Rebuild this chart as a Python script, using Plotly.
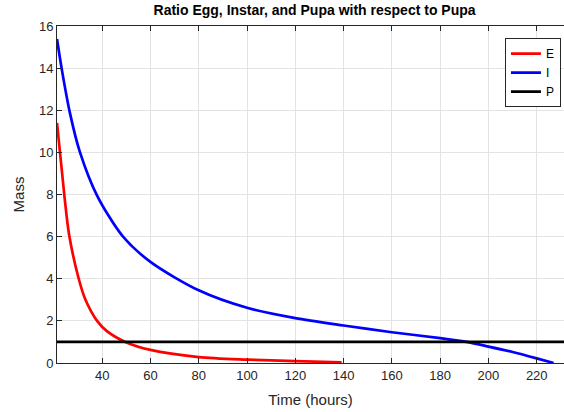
import plotly.graph_objects as go

# Data
egg_t = [21.3, 24.4, 26.3, 30.3, 33.1, 37.9, 42.1, 49.6, 60, 80, 100, 120, 139.2]
egg_m = [11.4, 7.9, 6.1, 4.0, 3.0, 2.0, 1.5, 1.0, 0.62, 0.28, 0.16, 0.09, 0.03]

instar_t = [21.3, 23.2, 26.6, 30.7, 37.9, 48.3, 60, 80, 100, 120, 140, 160, 180, 190.8, 200, 210, 220, 227]
instar_m = [15.38, 14.0, 11.9, 10.05, 7.95, 6.05, 4.8, 3.45, 2.62, 2.13, 1.78, 1.46, 1.18, 1.0, 0.78, 0.52, 0.22, 0.0]

pupa_t = [21.3, 231.3]
pupa_m = [1.0, 1.0]

x_ticks = [40, 60, 80, 100, 120, 140, 160, 180, 200, 220]
y_ticks = [0, 2, 4, 6, 8, 10, 12, 14, 16]

FONT = "Liberation Sans, Arial, sans-serif"
AX = "#262626"

fig = go.Figure()
fig.add_trace(go.Scatter(x=egg_t, y=egg_m, mode="lines", name="E",
                         line=dict(color="#ff0000", width=2.7, shape="spline", smoothing=0.8)))
fig.add_trace(go.Scatter(x=instar_t, y=instar_m, mode="lines", name="I",
                         line=dict(color="#0000ff", width=2.7, shape="spline", smoothing=0.8)))
fig.add_trace(go.Scatter(x=pupa_t, y=pupa_m, mode="lines", name="P",
                         line=dict(color="#000000", width=2.7)))

fig.update_layout(
    width=564, height=412,
    margin=dict(l=57, r=0, t=26, b=49),
    paper_bgcolor="white", plot_bgcolor="white",
    font=dict(family=FONT, size=13, color=AX),
    title=dict(text="<b>Ratio Egg, Instar, and Pupa with respect to Pupa</b>",
               x=0.508, xref="paper", xanchor="center",
               y=0.975, yref="container", yanchor="middle",
               font=dict(family=FONT, size=14, color="#000000")),
    showlegend=True,
    legend=dict(x=0.994, y=0.964, xanchor="right", yanchor="top",
                bgcolor="white", bordercolor=AX, borderwidth=1,
                font=dict(family=FONT, size=12, color="#000000"),
                tracegroupgap=0, itemwidth=30, entrywidth=22),
)

fig.update_xaxes(
    range=[21.3, 231.3], tickvals=x_ticks, ticktext=[str(v) for v in x_ticks],
    showgrid=True, gridcolor="#e3e3e3", gridwidth=1, zeroline=False,
    showline=True, linecolor=AX, linewidth=1, mirror="ticks",
    ticks="inside", ticklen=5, tickcolor=AX,
    tickfont=dict(family=FONT, size=13, color=AX),
    title=dict(text="Time (hours)", font=dict(family=FONT, size=15, color=AX), standoff=12),
)
fig.update_yaxes(
    range=[0, 16], tickvals=y_ticks, ticktext=[str(v) for v in y_ticks],
    showgrid=True, gridcolor="#e3e3e3", gridwidth=1, zeroline=False,
    showline=True, linecolor=AX, linewidth=1, mirror=False,
    ticks="inside", ticklen=5, tickcolor=AX,
    tickfont=dict(family=FONT, size=13, color=AX),
    title=dict(text="Mass", font=dict(family=FONT, size=15, color=AX), standoff=10),
)

fig.write_html("out.html")
